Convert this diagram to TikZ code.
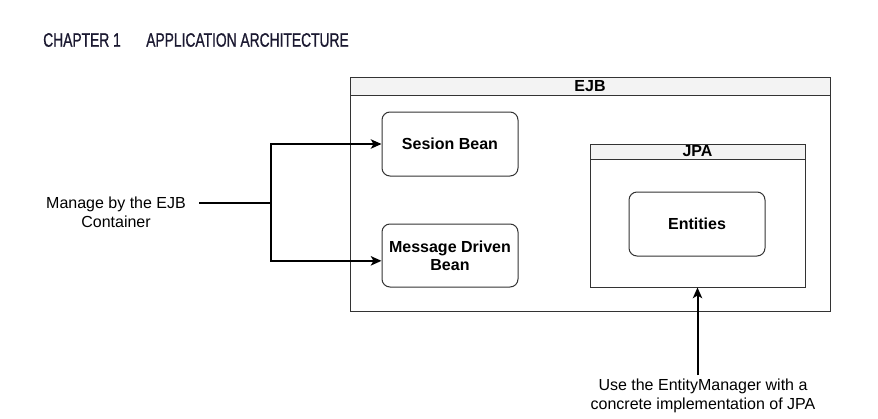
\documentclass[tikz,border=0pt]{standalone}
\usepackage{fontspec}
\setmainfont{Liberation Sans}
\newfontfamily\condfont[FakeStretch=0.71,FakeBold=0.8]{Liberation Sans}
\usetikzlibrary{arrows.meta,fit}
\definecolor{hdr}{HTML}{1A1830}
\definecolor{band}{HTML}{F3F3F3}
\definecolor{boxline}{HTML}{333333}
\begin{document}
\begin{tikzpicture}[x=0.75pt,y=-0.75pt,
 frame/.style={draw=boxline, line width=0.75pt, inner sep=0pt},
 bandbox/.style={draw=boxline, fill=band, line width=0.75pt, inner sep=0pt, font=\bfseries\fontsize{12}{14}\selectfont},
 compbox/.style={draw=boxline, line width=0.75pt, rounded corners=6pt, inner sep=0pt, font=\bfseries\fontsize{12}{13.5}\selectfont, align=center},
 lbl/.style={font=\fontsize{12}{14}\selectfont, align=center, inner ysep=0pt, inner xsep=10.5pt},
 hdrtext/.style={anchor=west, inner sep=0pt, text=hdr, font=\condfont\fontsize{14.6}{16}\selectfont},
 conn/.style={line width=1.5pt, -{Stealth[length=8pt, width=7pt, inset=2pt]}},
 plain/.style={line width=1.5pt}]
\useasboundingbox[fill=white] (0,0) rectangle (878,418);

% header
\node[hdrtext] (chap) at (43,40) {CHAPTER 1};
\node[hdrtext] (arch) at (146,40) {APPLICATION ARCHITECTURE};

% EJB container
\node[frame, fit={(350,77) (830,311)}] (ejb) {};
\node[bandbox, fit={(350,77) (830,95)}] (ejbhead) {};
\node[font=\bfseries\fontsize{12}{14}\selectfont, inner sep=0pt] (ejblbl) at (ejbhead.center) {EJB};

% components
\node[compbox, fit={(382,112) (518,176)}] (sesion) {};
\node[font=\bfseries\fontsize{12}{14}\selectfont, inner sep=0pt] (sesionlbl) at (sesion.center) {Sesion Bean};
\node[compbox, fit={(382,224) (518,287)}] (mdb) {};
\node[font=\bfseries\fontsize{12}{13.5}\selectfont, align=center, inner sep=0pt] (mdblbl) at (mdb.center) {Message Driven\\Bean};

% JPA
\node[frame, fit={(590,144) (805,287)}] (jpa) {};
\node[bandbox, fit={(590,144) (805,159)}] (jpahead) {};
\node[font=\bfseries\fontsize{12}{14}\selectfont, inner sep=0pt] (jpalbl) at (jpahead.center) {JPA};
\node[compbox, fit={(629,192) (765,256)}] (ent) {};
\node[font=\bfseries\fontsize{12}{14}\selectfont, inner sep=0pt] (entlbl) at (ent.center) {Entities};

% labels
\node[lbl] (mng) at (116,212) {Manage by the EJB\\Container};
\node[lbl, inner xsep=0pt] (use) at (703,396) {Use the EntityManager with a\\concrete implementation of JPA};

% connectors
\coordinate (j) at (271,203);
\coordinate (mngend) at (199,203);
\draw[plain] (mngend) -- (j);
\draw[conn] (j) |- (sesion.west);
\draw[conn] (j) |- ([yshift=-4pt]mdb.west);
\coordinate (ustart) at (697.5,375);
\draw[conn] (ustart) -- (jpa.south);
\end{tikzpicture}
\end{document}
